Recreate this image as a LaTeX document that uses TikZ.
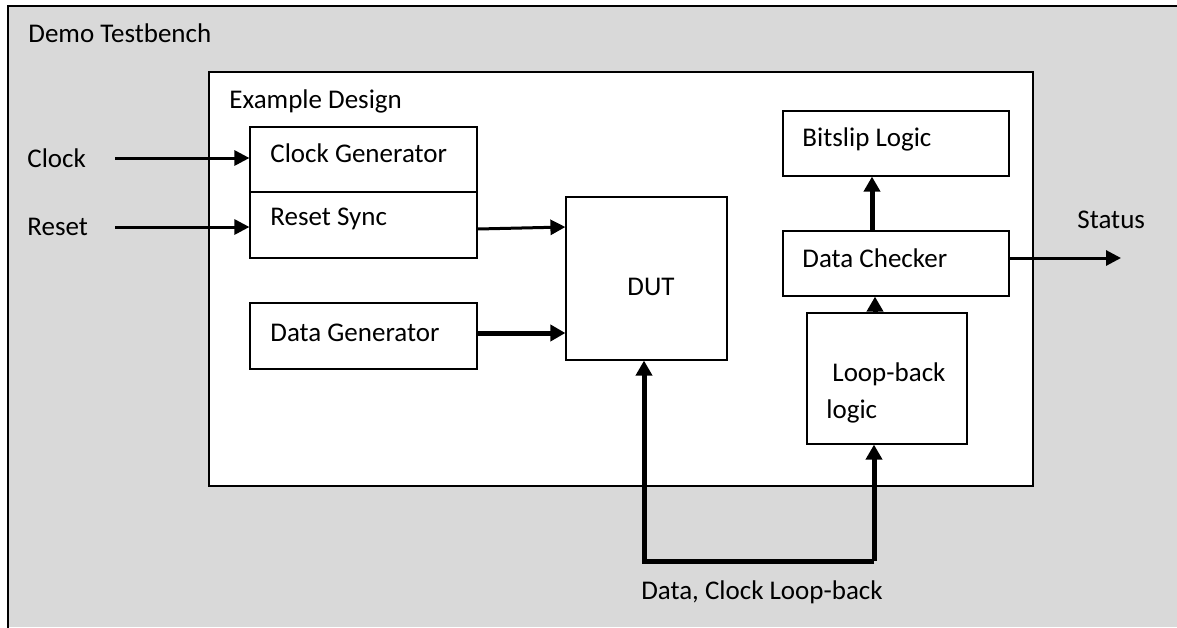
\documentclass[tikz,border=0pt]{standalone}
\usepackage{fontspec}
\setmainfont{Carlito}
\usetikzlibrary{arrows.meta}
\definecolor{bggray}{HTML}{D9D9D9}
\tikzset{
  box/.style={draw=black, line width=0.6pt, fill=white, inner sep=0pt},
  lbl/.style={inner sep=0pt, anchor=west, font=\fontsize{13.5}{15}\selectfont},
  thinarrow/.style={line width=1.5pt, -{Triangle[length=7.5pt,width=7.5pt]}},
  thickarrow/.style={line width=2.5pt, -{Triangle[length=7.5pt,width=8pt]}},
}
\begin{document}
\begin{tikzpicture}[x=0.5pt,y=-0.5pt]
\useasboundingbox (0,0) rectangle (1177,627);
\clip (0,0) rectangle (1177,627);
\fill[bggray] (8,6) rectangle (1177,627);
\draw[line width=1pt] (1185,6) -- (8,6) -- (8,635);
\node[lbl] (tbl) at (28,33) {Demo Testbench};

% Example design
\node[box, minimum width=412pt, minimum height=207pt] (ed) at (621,279) {};
\node[lbl] (edl) at (229,101) {Example Design};

\node[box, minimum width=113.5pt, minimum height=32.5pt] (cg) at (363.5,159.5) {};
\node[lbl] (cgl) at (270,153) {Clock Generator};
\node[box, minimum width=113.5pt, minimum height=33pt] (rs) at (363.5,225) {};
\node[lbl] (rsl) at (270,219) {Reset Sync};
\node[box, minimum width=113.5pt, minimum height=33pt] (dg) at (363.5,336) {};
\node[lbl] (dgl) at (270,333) {Data Generator};

\node[box, minimum width=80.5pt, minimum height=81.5pt] (dut) at (646.5,278.5) {};
\node[lbl, anchor=center] (dutl) at (651,287) {DUT};

\node[box, minimum width=113pt, minimum height=32.5pt] (bs) at (896,143.5) {};
\node[lbl] (bsl) at (802,139) {Bitslip Logic};
\node[box, minimum width=113pt, minimum height=32.5pt] (dc) at (896,263.5) {};
\node[lbl] (dcl) at (802,258) {Data Checker};
\node[box, minimum width=80pt, minimum height=65.5pt] (lb) at (887,378.5) {};
\node[lbl] (lbl1) at (832,374) {Loop-back};
\node[lbl] (lbl2) at (826,411) {logic};

% external labels
\node[lbl] (clk) at (27,158) {Clock};
\node[lbl] (rst) at (27,227) {Reset};
\node[lbl] (st) at (1077,220) {Status};
\node[lbl, anchor=center] (dcll) at (762,592) {Data, Clock Loop-back};

\coordinate (clks) at (115,158);
\coordinate (rsts) at (115,227);
\coordinate (ste) at (1121,258);
\coordinate (loopl) at (644,561);
\coordinate (loopr) at (874,561);

\draw[thinarrow] (clks) -- (clks -| cg.west);
\draw[thinarrow] (rsts) -- (rsts -| rs.west);
\draw[thinarrow] (rs.east |- 0,229) -- (dut.west |- 0,227);
\draw[thickarrow] (dg.east |- 0,333) -- (dut.west |- 0,333);
\draw[thickarrow] (872,0 |- dc.north) -- (872,0 |- bs.south);
\draw[thickarrow] (875,0 |- lb.north) -- (875,0 |- dc.south);
\draw[thinarrow] (dc.east |- ste) -- (ste);
\draw[line width=2.5pt, line join=miter, -{Triangle[length=7.5pt,width=8pt]}]
  (loopr) -- (loopl) -- (loopl |- dut.south);
\draw[thickarrow] (loopr) -- (loopr |- lb.south);
\end{tikzpicture}
\end{document}
